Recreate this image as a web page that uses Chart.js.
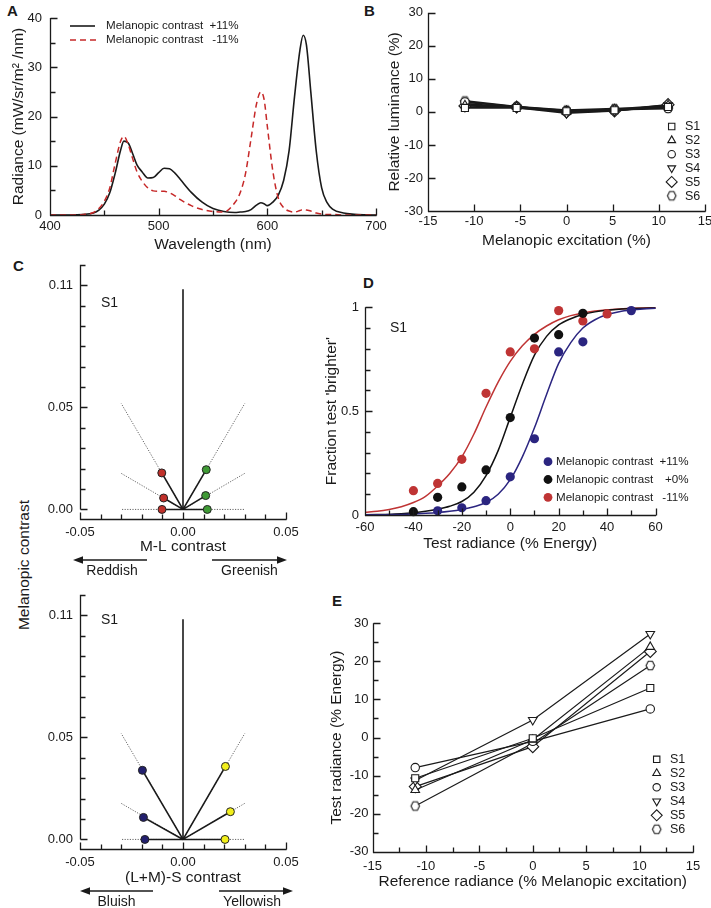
<!DOCTYPE html>
<html>
<head>
<meta charset="utf-8">
<title>Melanopic contrast and brightness</title>
<script src="https://cdn.jsdelivr.net/npm/chart.js@4.4.1/dist/chart.umd.min.js"></script>
<style>
  html, body { margin: 0; padding: 0; overflow: hidden; background: #fff; }
  body { position: relative; width: 711px; height: 908px; font-family: "Liberation Sans", Arial, Helvetica, sans-serif; color: #1a1a1a; }
  canvas { position: absolute; }
  .tag { position: absolute; font-size: 15px; font-weight: bold; line-height: 1; }
  .vtitle { position: absolute; font-size: 15.5px; white-space: nowrap; line-height: 1; transform: translate(-50%, -50%) rotate(-90deg); }
</style>
</head>
<body>
<div class="tag" style="left:7px;top:3px">A</div>
<div class="tag" style="left:364px;top:3px">B</div>
<div class="tag" style="left:13px;top:258px">C</div>
<div class="tag" style="left:363px;top:275px">D</div>
<div class="tag" style="left:332px;top:593px">E</div>
<div class="vtitle" style="left:24px;top:565px">Melanopic contrast</div>
<canvas id="chartA"></canvas>
<canvas id="chartB"></canvas>
<canvas id="chartC1"></canvas>
<canvas id="chartC2"></canvas>
<canvas id="chartD"></canvas>
<canvas id="chartE"></canvas>
<script>
// ---- A: spectra
const wavelengths = [400, 420, 430, 440, 445, 450, 455, 460, 465, 468, 472, 476, 480, 485, 490, 495, 500, 505, 510, 515, 520, 530, 540, 550, 560, 570, 575, 580, 585, 590, 594, 597, 600, 605, 610, 615, 620, 625, 630, 633, 636, 640, 645, 650, 655, 660, 670, 680, 690, 700]
const radiancePlus11 = [0, 0, 0.1, 0.4, 1.0, 2.2, 4.5, 8.5, 13.2, 15.0, 14.6, 12.5, 10.2, 8.7, 7.5, 7.6, 8.6, 9.5, 9.4, 8.5, 7.2, 4.6, 2.6, 1.3, 0.7, 0.5, 0.6, 0.7, 1.1, 2.0, 2.5, 2.3, 1.9, 2.6, 4.0, 7.0, 13.0, 24.0, 33.5, 36.5, 34.5, 25.0, 13.0, 5.5, 2.5, 1.2, 0.4, 0.15, 0.05, 0]
const radianceMinus11 = [0, 0, 0.1, 0.5, 1.3, 2.8, 5.5, 10.5, 15.0, 16.0, 14.3, 11.5, 8.8, 6.8, 5.5, 4.9, 4.8, 4.8, 4.5, 3.9, 3.1, 1.9, 1.1, 0.7, 0.6, 2.5, 4.5, 8.5, 15.5, 22.5, 25.0, 23.5, 18.0, 9.0, 3.5, 1.5, 0.8, 0.6, 0.9, 1.1, 1.0, 0.8, 0.4, 0.2, 0.1, 0.1, 0, 0, 0, 0]
const aXTicks = [400, 450, 500, 550, 600, 650, 700]
const aXLabels = [400, 500, 600, 700]
const aYTicks = [0, 5, 10, 15, 20, 25, 30, 35, 40]
const aYLabels = [0, 10, 20, 30, 40]

// ---- B: relative luminance
const bExcitation = [-11, -5.4, 0, 5.2, 11]
const bLumS1 = [1.2, 1.2, 0.2, 0.5, 1.5]
const bLumS2 = [2.0, 1.6, 0.0, 0.8, 2.0]
const bLumS3 = [3.0, 1.5, 0.4, 0.7, 1.0]
const bLumS4 = [2.5, 1.3, -0.4, 0.3, 2.0]
const bLumS5 = [1.8, 1.5, 0.0, 0.3, 2.2]
const bLumS6 = [3.3, 1.6, 0.5, 1.0, 1.2]
const bXTicks = [-15, -10, -5, 0, 5, 10, 15]
const bYTicks = [-30, -20, -10, 0, 10, 20, 30]

// ---- C: cone / melanopic contrast directions (S1)
const mlReddishX = [-0.0103, -0.0094, -0.0102]
const mlReddishY = [0.0179, 0.0056, 0]
const mlGreenishX = [0.0113, 0.011, 0.0118]
const mlGreenishY = [0.0195, 0.0068, 0]
const slBluishX = [-0.0197, -0.0192, -0.0185]
const slBluishY = [0.0339, 0.0108, 0]
const slYellowishX = [0.0206, 0.023, 0.0204]
const slYellowishY = [0.0358, 0.0136, 0]
const rayEndX = [-0.03, -0.03, -0.03, 0.03, 0.03, 0.03]
const rayEndY = [0.052, 0.0177, 0, 0.052, 0.0177, 0]
const melanopicAxisTop = 0.108
const cXTicks = [-0.05, -0.04, -0.03, -0.02, -0.01, 0, 0.01, 0.02, 0.03, 0.04, 0.05]
const cXLabels = [-0.05, 0, 0.05]
const cYTicks = [0, 0.01, 0.02, 0.03, 0.04, 0.05, 0.06, 0.07, 0.08, 0.09, 0.1, 0.11, 0.12]
const cYLabels = [0, 0.05, 0.11]

// ---- D: psychometric data (S1)
const dTestRadiance = [-40, -30, -20, -10, 0, 10, 20, 30, 40, 50]
const dBrighterPlus11 = [null, 0.02, 0.035, 0.069, 0.184, 0.367, 0.785, 0.834, null, 0.984]
const dBrighterZero = [0.016, 0.085, 0.135, 0.217, 0.469, 0.852, 0.868, 0.971, null, null]
const dBrighterMinus11 = [0.117, 0.152, 0.268, 0.586, 0.785, 0.80, 0.984, 0.934, 0.968, null]
const dFitX = [-60, -55, -50, -45, -40, -35, -30, -25, -20, -15, -10, -5, 0, 5, 10, 15, 20, 25, 30, 35, 40, 45, 50, 55, 60]
const dFitPlus11 = [0.001, 0.001, 0.002, 0.003, 0.005, 0.008, 0.012, 0.018, 0.027, 0.04, 0.06, 0.1, 0.17, 0.28, 0.42, 0.58, 0.73, 0.83, 0.9, 0.94, 0.965, 0.979, 0.987, 0.992, 0.995]
const dFitZero = [0.001, 0.002, 0.003, 0.006, 0.011, 0.018, 0.028, 0.042, 0.065, 0.11, 0.19, 0.31, 0.47, 0.63, 0.77, 0.86, 0.915, 0.945, 0.965, 0.978, 0.986, 0.991, 0.994, 0.996, 0.997]
const dFitMinus11 = [0.013, 0.018, 0.027, 0.04, 0.06, 0.09, 0.14, 0.2, 0.28, 0.39, 0.52, 0.64, 0.74, 0.815, 0.87, 0.91, 0.94, 0.96, 0.973, 0.982, 0.988, 0.992, 0.995, 0.997, 0.998]
const dXTicks = [-60, -50, -40, -30, -20, -10, 0, 10, 20, 30, 40, 50, 60]
const dXLabels = [-60, -40, -20, 0, 20, 40, 60]
const dYTicks = [0, 0.1, 0.2, 0.3, 0.4, 0.5, 0.6, 0.7, 0.8, 0.9, 1]
const dYLabels = [0, 0.5, 1]

// ---- E: matched test radiance
const eReference = [-11, 0, 11]
const eTestS1 = [-10.7, -0.2, 13.0]
const eTestS2 = [-13.8, -0.6, 23.8]
const eTestS3 = [-7.9, -1.0, 7.5]
const eTestS4 = [-11.3, 4.6, 27.2]
const eTestS5 = [-12.9, -2.4, 22.6]
const eTestS6 = [-18.0, -1.5, 18.9]
const eXTicks = [-15, -12.5, -10, -7.5, -5, -2.5, 0, 2.5, 5, 7.5, 10, 12.5, 15]
const eXLabels = [-15, -10, -5, 0, 5, 10, 15]
const eYTicks = [-30, -25, -20, -15, -10, -5, 0, 5, 10, 15, 20, 25, 30]
const eYLabels = [-30, -20, -10, 0, 10, 20, 30]

const subjects = ['S1', 'S2', 'S3', 'S4', 'S5', 'S6']

// ---------------------------------------------------------------
const INK = '#1a1a1a'
const FONT = '"Liberation Sans", Arial, Helvetica, sans-serif'
Chart.defaults.font.family = FONT
Chart.defaults.font.size = 13
Chart.defaults.color = INK
Chart.defaults.animation = false

const hexagonMark = (() => {
    const r = 4.6
    const c = document.createElement('canvas')
    c.width = c.height = 13
    const g = c.getContext('2d')
    g.translate(6.5, 6.5)
    g.beginPath()
    for (let i = 0; i < 6; i++) {
        const ang = Math.PI / 3 * i
        g.lineTo(r * 0.92 * Math.cos(ang), r * Math.sin(ang) * 1.08)
    }
    g.closePath()
    g.fillStyle = '#fff'
    g.fill()
    g.strokeStyle = INK
    g.lineWidth = 1.1
    g.stroke()
    return c
})()

const markerStyles = ['rect', 'triangle', 'circle', 'triangle', 'rectRot', hexagonMark]
const markerRotation = [0, 0, 0, 180, 0, 0]
const markerRadius = [5, 5, 4.2, 5, 6, 5]

const isIn = (list, v) => list.some(l => Math.abs(l - v) < 1e-9)

// axis lines and inward ticks, like the original figure
const inwardAxes = (xa, ya, yFrom) => ({
    id: 'inwardAxes',
    afterDraw(chart) {
        const ctx = chart.ctx
        const a = chart.chartArea
        const x = chart.scales.x, y = chart.scales.y
        const left = Math.round(a.left) + 0.5
        const bottom = Math.round(a.bottom) + 0.5
        const yTop = y.getPixelForValue(ya.max)
        const yBot = y.getPixelForValue(yFrom === undefined ? ya.min : yFrom)
        const segs = [[left, yTop, left, yBot], [left - 0.6, bottom, a.right + 0.6, bottom]]
        for (const v of xa.ticks) {
            const p = Math.round(x.getPixelForValue(v)) + 0.5
            segs.push([p, bottom, p, bottom - (isIn(xa.labels || xa.ticks, v) ? 7 : 5)])
        }
        for (const v of ya.ticks) {
            const p = Math.round(y.getPixelForValue(v)) + 0.5
            segs.push([left, p, left + (isIn(ya.labels || ya.ticks, v) ? 7 : 5), p])
        }
        ctx.save()
        ctx.setLineDash([])
        ctx.strokeStyle = INK
        ctx.lineWidth = 1.3
        ctx.beginPath()
        segs.forEach(s => { ctx.moveTo(s[0], s[1]); ctx.lineTo(s[2], s[3]) })
        ctx.stroke()
        ctx.restore()
    }
})

const setCanvas = (id, box) => {
    const c = document.getElementById(id)
    c.width = box[2]
    c.height = box[3]
    c.style.left = box[0] + 'px'
    c.style.top = box[1] + 'px'
    return c
}

const axis = (o) => ({
    type: 'linear',
    min: o.min,
    max: o.max,
    bounds: 'data',
    afterBuildTicks: s => { s.ticks = o.ticks.map(v => ({ value: v })) },
    afterFit: s => { if (s.isHorizontal()) s.height = o.size; else s.width = o.size },
    grid: { display: false, drawTicks: false },
    border: { display: false },
    ticks: {
        autoSkip: false,
        maxRotation: 0,
        padding: o.pad,
        callback: v => {
            const hit = (o.labels || o.ticks).find(l => Math.abs(l - v) < 1e-9)
            return hit === undefined ? '' : (o.fmt ? o.fmt(hit) : String(hit))
        }
    },
    title: {
        display: !!o.title,
        text: o.title,
        font: { size: 15.5 },
        color: INK,
        padding: o.titlePad || 0
    }
})

const options = (box, area, xAxis, yAxis) => ({
    responsive: false,
    animation: false,
    events: [],
    layout: { padding: { left: 0, bottom: 0, top: area[1] - box[1], right: box[0] + box[2] - area[2] } },
    scales: {
        x: axis(Object.assign({ size: box[1] + box[3] - area[3] }, xAxis)),
        y: axis(Object.assign({ size: area[0] - box[0] }, yAxis))
    },
    plugins: { legend: { display: false }, tooltip: { enabled: false } }
})

const xy = (xs, ys) => xs.map((x, i) => ({ x: x, y: ys[i] })).filter(p => p.y !== null)

const arrow = (ctx, x1, x2, y) => {
    const dir = Math.sign(x2 - x1)
    ctx.beginPath()
    ctx.moveTo(x1, y)
    ctx.lineTo(x2 - dir * 6, y)
    ctx.stroke()
    ctx.beginPath()
    ctx.moveTo(x2, y)
    ctx.lineTo(x2 - dir * 10, y - 3.8)
    ctx.lineTo(x2 - dir * 10, y + 3.8)
    ctx.closePath()
    ctx.fill()
}

const subjectLegend = (ctx, x, y0, gap) => {
    ctx.font = '12.5px ' + FONT
    ctx.textBaseline = 'middle'
    ctx.textAlign = 'left'
    subjects.forEach((s, i) => {
        const y = y0 + i * gap
        ctx.fillStyle = '#fff'
        ctx.strokeStyle = INK
        ctx.lineWidth = 1.1
        Chart.helpers.drawPoint(ctx, { pointStyle: markerStyles[i], rotation: markerRotation[i], radius: markerRadius[i] - 0.5, borderWidth: 1.1 }, x, y)
        ctx.fillStyle = INK
        ctx.fillText(s, x + 13.3, y + 0.5)
    })
}

const subjectSets = (xs, series, lineWidth) => series.map((ys, i) => ({
    data: xy(xs, ys),
    showLine: true,
    borderColor: INK,
    borderWidth: lineWidth,
    pointStyle: markerStyles[i],
    pointRotation: markerRotation[i],
    pointRadius: markerRadius[i],
    pointBackgroundColor: '#fff',
    pointBorderColor: INK,
    pointBorderWidth: 1.1,
    clip: false
}))

// ---- A
const boxA = [0, 0, 400, 262], areaA = [50, 18, 376, 215]
const aX = { min: 400, max: 700, ticks: aXTicks, labels: aXLabels, pad: 4, title: 'Wavelength (nm)', titlePad: { bottom: 8 } }
const aY = { min: 0, max: 40, ticks: aYTicks, labels: aYLabels, pad: 8, title: 'Radiance (mW/sr/m² /nm)', titlePad: { top: 9 } }
new Chart(setCanvas('chartA', boxA), {
    type: 'scatter',
    data: {
        datasets: [
            { data: xy(wavelengths, radianceMinus11), showLine: true, borderColor: '#c62828', borderWidth: 1.5, borderDash: [6, 4], pointRadius: 0, cubicInterpolationMode: 'monotone', clip: false },
            { data: xy(wavelengths, radiancePlus11), showLine: true, borderColor: INK, borderWidth: 1.6, pointRadius: 0, cubicInterpolationMode: 'monotone', clip: false }
        ]
    },
    options: options(boxA, areaA, aX, aY),
    plugins: [inwardAxes(aX, aY), {
        id: 'legendA',
        afterDraw(chart) {
            const { ctx, chartArea: a } = chart
            ctx.save()
            ctx.lineWidth = 1.6
            ctx.strokeStyle = INK
            ctx.beginPath(); ctx.moveTo(a.left + 20, a.top + 8); ctx.lineTo(a.left + 45, a.top + 8); ctx.stroke()
            ctx.strokeStyle = '#c62828'
            ctx.setLineDash([6, 4])
            ctx.beginPath(); ctx.moveTo(a.left + 20, a.top + 22); ctx.lineTo(a.left + 47, a.top + 22); ctx.stroke()
            ctx.font = '11.6px ' + FONT
            ctx.fillStyle = INK
            ctx.textBaseline = 'middle'
            ctx.fillText('Melanopic contrast', a.left + 56, a.top + 8)
            ctx.fillText('Melanopic contrast', a.left + 56, a.top + 22)
            ctx.textAlign = 'right'
            ctx.fillText('+11%', a.left + 188.5, a.top + 8)
            ctx.fillText('-11%', a.left + 188.5, a.top + 22)
            ctx.restore()
        }
    }]
})

// ---- B
const boxB = [355, 0, 370, 262], areaB = [428, 12, 705, 211]
const bX = { min: -15, max: 15, ticks: bXTicks, pad: 3, title: 'Melanopic excitation (%)', titlePad: { bottom: 12 } }
const bY = { min: -30, max: 30, ticks: bYTicks, pad: 5, title: 'Relative luminance (%)', titlePad: { top: 30.7 } }
new Chart(setCanvas('chartB', boxB), {
    type: 'scatter',
    data: { datasets: subjectSets(bExcitation, [bLumS1, bLumS2, bLumS3, bLumS4, bLumS5, bLumS6], 1.8) },
    options: options(boxB, areaB, bX, bY),
    plugins: [inwardAxes(bX, bY), {
        id: 'legendB',
        afterDraw(chart) {
            const { ctx, chartArea: a } = chart
            ctx.save()
            subjectLegend(ctx, a.right - 33.3, a.top + 113.7, 13.86)
            ctx.restore()
        }
    }]
})

// ---- C (two panels)
const polarSets = (lx, ly, lc, rx, ry, rc) => {
    const origin = { x: 0, y: 0 }
    const dot = (xs, ys, c) => ({ data: xy(xs, ys), showLine: false, pointRadius: 4, pointBackgroundColor: c, pointBorderColor: '#222', pointBorderWidth: 1, clip: false })
    const spoke = (x, y) => ({ data: [origin, { x: x, y: y }], showLine: true, borderColor: INK, borderWidth: 1.6, pointRadius: 0 })
    const sets = [dot(lx, ly, lc), dot(rx, ry, rc)]
    lx.forEach((x, i) => sets.push(spoke(x, ly[i])))
    rx.forEach((x, i) => sets.push(spoke(x, ry[i])))
    sets.push(spoke(0, melanopicAxisTop))
    rayEndX.forEach((x, i) => sets.push({ data: [origin, { x: x, y: rayEndY[i] }], showLine: true, borderColor: '#666', borderWidth: 1, borderDash: [1.2, 1.4], pointRadius: 0 }))
    return sets
}

const cNotes = (id, s1Dy, arrowDy, leftArrow, rightArrow, leftText, rightText) => ({
    id: id,
    afterDraw(chart) {
        const { ctx, chartArea: a } = chart
        ctx.save()
        ctx.fillStyle = INK
        ctx.strokeStyle = INK
        ctx.font = '14px ' + FONT
        ctx.textBaseline = 'middle'
        ctx.fillText('S1', a.left + 21, a.top + s1Dy)
        ctx.lineWidth = 1.4
        arrow(ctx, a.left + leftArrow[0], a.left + leftArrow[1], a.bottom + arrowDy)
        arrow(ctx, a.right + rightArrow[0], a.right + rightArrow[1], a.bottom + arrowDy)
        ctx.textAlign = 'center'
        ctx.fillText(leftText[0], a.left + leftText[1], a.bottom + arrowDy + 11)
        ctx.fillText(rightText[0], a.right + rightText[1], a.bottom + arrowDy + 11)
        ctx.restore()
    }
})

const cY = { min: -0.0045, max: 0.12, ticks: cYTicks, labels: cYLabels, pad: 7, fmt: v => v.toFixed(2) }

const boxC1 = [0, 250, 330, 340], areaC1 = [80, 261.4, 286, 518.6]
const cX1 = { min: -0.05, max: 0.05, ticks: cXTicks, labels: cXLabels, pad: 6, fmt: v => v.toFixed(2), title: 'M-L contrast', titlePad: { bottom: 33.7 } }
new Chart(setCanvas('chartC1', boxC1), {
    type: 'scatter',
    data: { datasets: polarSets(mlReddishX, mlReddishY, '#c0302a', mlGreenishX, mlGreenishY, '#3f9a35') },
    options: options(boxC1, areaC1, cX1, cY),
    plugins: [inwardAxes(cX1, cY, 0), cNotes('notesC1', 38, 41.4, [67, -7], [-74, 1], ['Reddish', 32], ['Greenish', -36.5])]
})

const boxC2 = [0, 580, 330, 328], areaC2 = [80, 591.4, 286, 848.6]
const cX2 = { min: -0.05, max: 0.05, ticks: cXTicks, labels: cXLabels, pad: 6, fmt: v => v.toFixed(2), title: '(L+M)-S contrast', titlePad: { bottom: 20.7 } }
new Chart(setCanvas('chartC2', boxC2), {
    type: 'scatter',
    data: { datasets: polarSets(slBluishX, slBluishY, '#23206e', slYellowishX, slYellowishY, '#f2ef1a') },
    options: options(boxC2, areaC2, cX2, cY),
    plugins: [inwardAxes(cX2, cY, 0), cNotes('notesC2', 25.5, 42.4, [73, 0], [-67, 7], ['Bluish', 36.5], ['Yellowish', -34])]
})

// ---- D
const dBlue = '#2b2580', dRed = '#bf3434', dBlack = '#111'
const dDots = (ys, c) => ({ data: xy(dTestRadiance, ys), showLine: false, pointRadius: 4.6, pointBackgroundColor: c, pointBorderColor: c, pointBorderWidth: 0, clip: false })
const dFit = (ys, c) => ({ data: xy(dFitX, ys), showLine: true, borderColor: c, borderWidth: 1.5, pointRadius: 0, cubicInterpolationMode: 'monotone', clip: false })
const boxD = [320, 280, 405, 290], areaD = [365, 307.3, 655.5, 515]
const dX = { min: -60, max: 60, ticks: dXTicks, labels: dXLabels, pad: 5, title: 'Test radiance (% Energy)', titlePad: { bottom: 16.7 } }
const dY = { min: 0, max: 1, ticks: dYTicks, labels: dYLabels, pad: 6, title: "Fraction test 'brighter'", titlePad: { top: 2.7 } }
new Chart(setCanvas('chartD', boxD), {
    type: 'scatter',
    data: {
        datasets: [
            dDots(dBrighterPlus11, dBlue), dDots(dBrighterZero, dBlack), dDots(dBrighterMinus11, dRed),
            dFit(dFitPlus11, dBlue), dFit(dFitZero, dBlack), dFit(dFitMinus11, dRed)
        ]
    },
    options: options(boxD, areaD, dX, dY),
    plugins: [inwardAxes(dX, dY), {
        id: 'legendD',
        afterDraw(chart) {
            const { ctx, chartArea: a } = chart
            const rows = [['+11%', dBlue], ['+0%', dBlack], ['-11%', dRed]]
            ctx.save()
            ctx.font = '14px ' + FONT
            ctx.fillStyle = INK
            ctx.textBaseline = 'middle'
            ctx.fillText('S1', a.left + 25, a.top + 21)
            ctx.font = '11.6px ' + FONT
            rows.forEach((r, i) => {
                const y = a.top + 154.4 + i * 17.8
                ctx.fillStyle = r[1]
                ctx.beginPath(); ctx.arc(a.left + 183, y, 4.4, 0, Math.PI * 2); ctx.fill()
                ctx.fillStyle = INK
                ctx.textAlign = 'left'
                ctx.fillText('Melanopic contrast', a.left + 191, y + 0.5)
                ctx.textAlign = 'right'
                ctx.fillText(r[0], a.right + 33, y + 0.5)
            })
            ctx.restore()
        }
    }]
})

// ---- E
const boxE = [320, 600, 405, 308], areaE = [372.5, 623.3, 693, 851.7]
const eX = { min: -15, max: 15, ticks: eXTicks, labels: eXLabels, pad: 7, title: 'Reference radiance (% Melanopic excitation)', titlePad: { bottom: 16.7 } }
const eY = { min: -30, max: 30, ticks: eYTicks, labels: eYLabels, pad: 4, title: 'Test radiance (% Energy)', titlePad: { top: 7.7 } }
new Chart(setCanvas('chartE', boxE), {
    type: 'scatter',
    data: { datasets: subjectSets(eReference, [eTestS1, eTestS2, eTestS3, eTestS4, eTestS5, eTestS6], 1.2) },
    options: options(boxE, areaE, eX, eY),
    plugins: [inwardAxes(eX, eY), {
        id: 'legendE',
        afterDraw(chart) {
            const { ctx, chartArea: a } = chart
            ctx.save()
            subjectLegend(ctx, a.right - 36.3, a.top + 136, 14)
            ctx.restore()
        }
    }]
})
</script>
</body>
</html>
